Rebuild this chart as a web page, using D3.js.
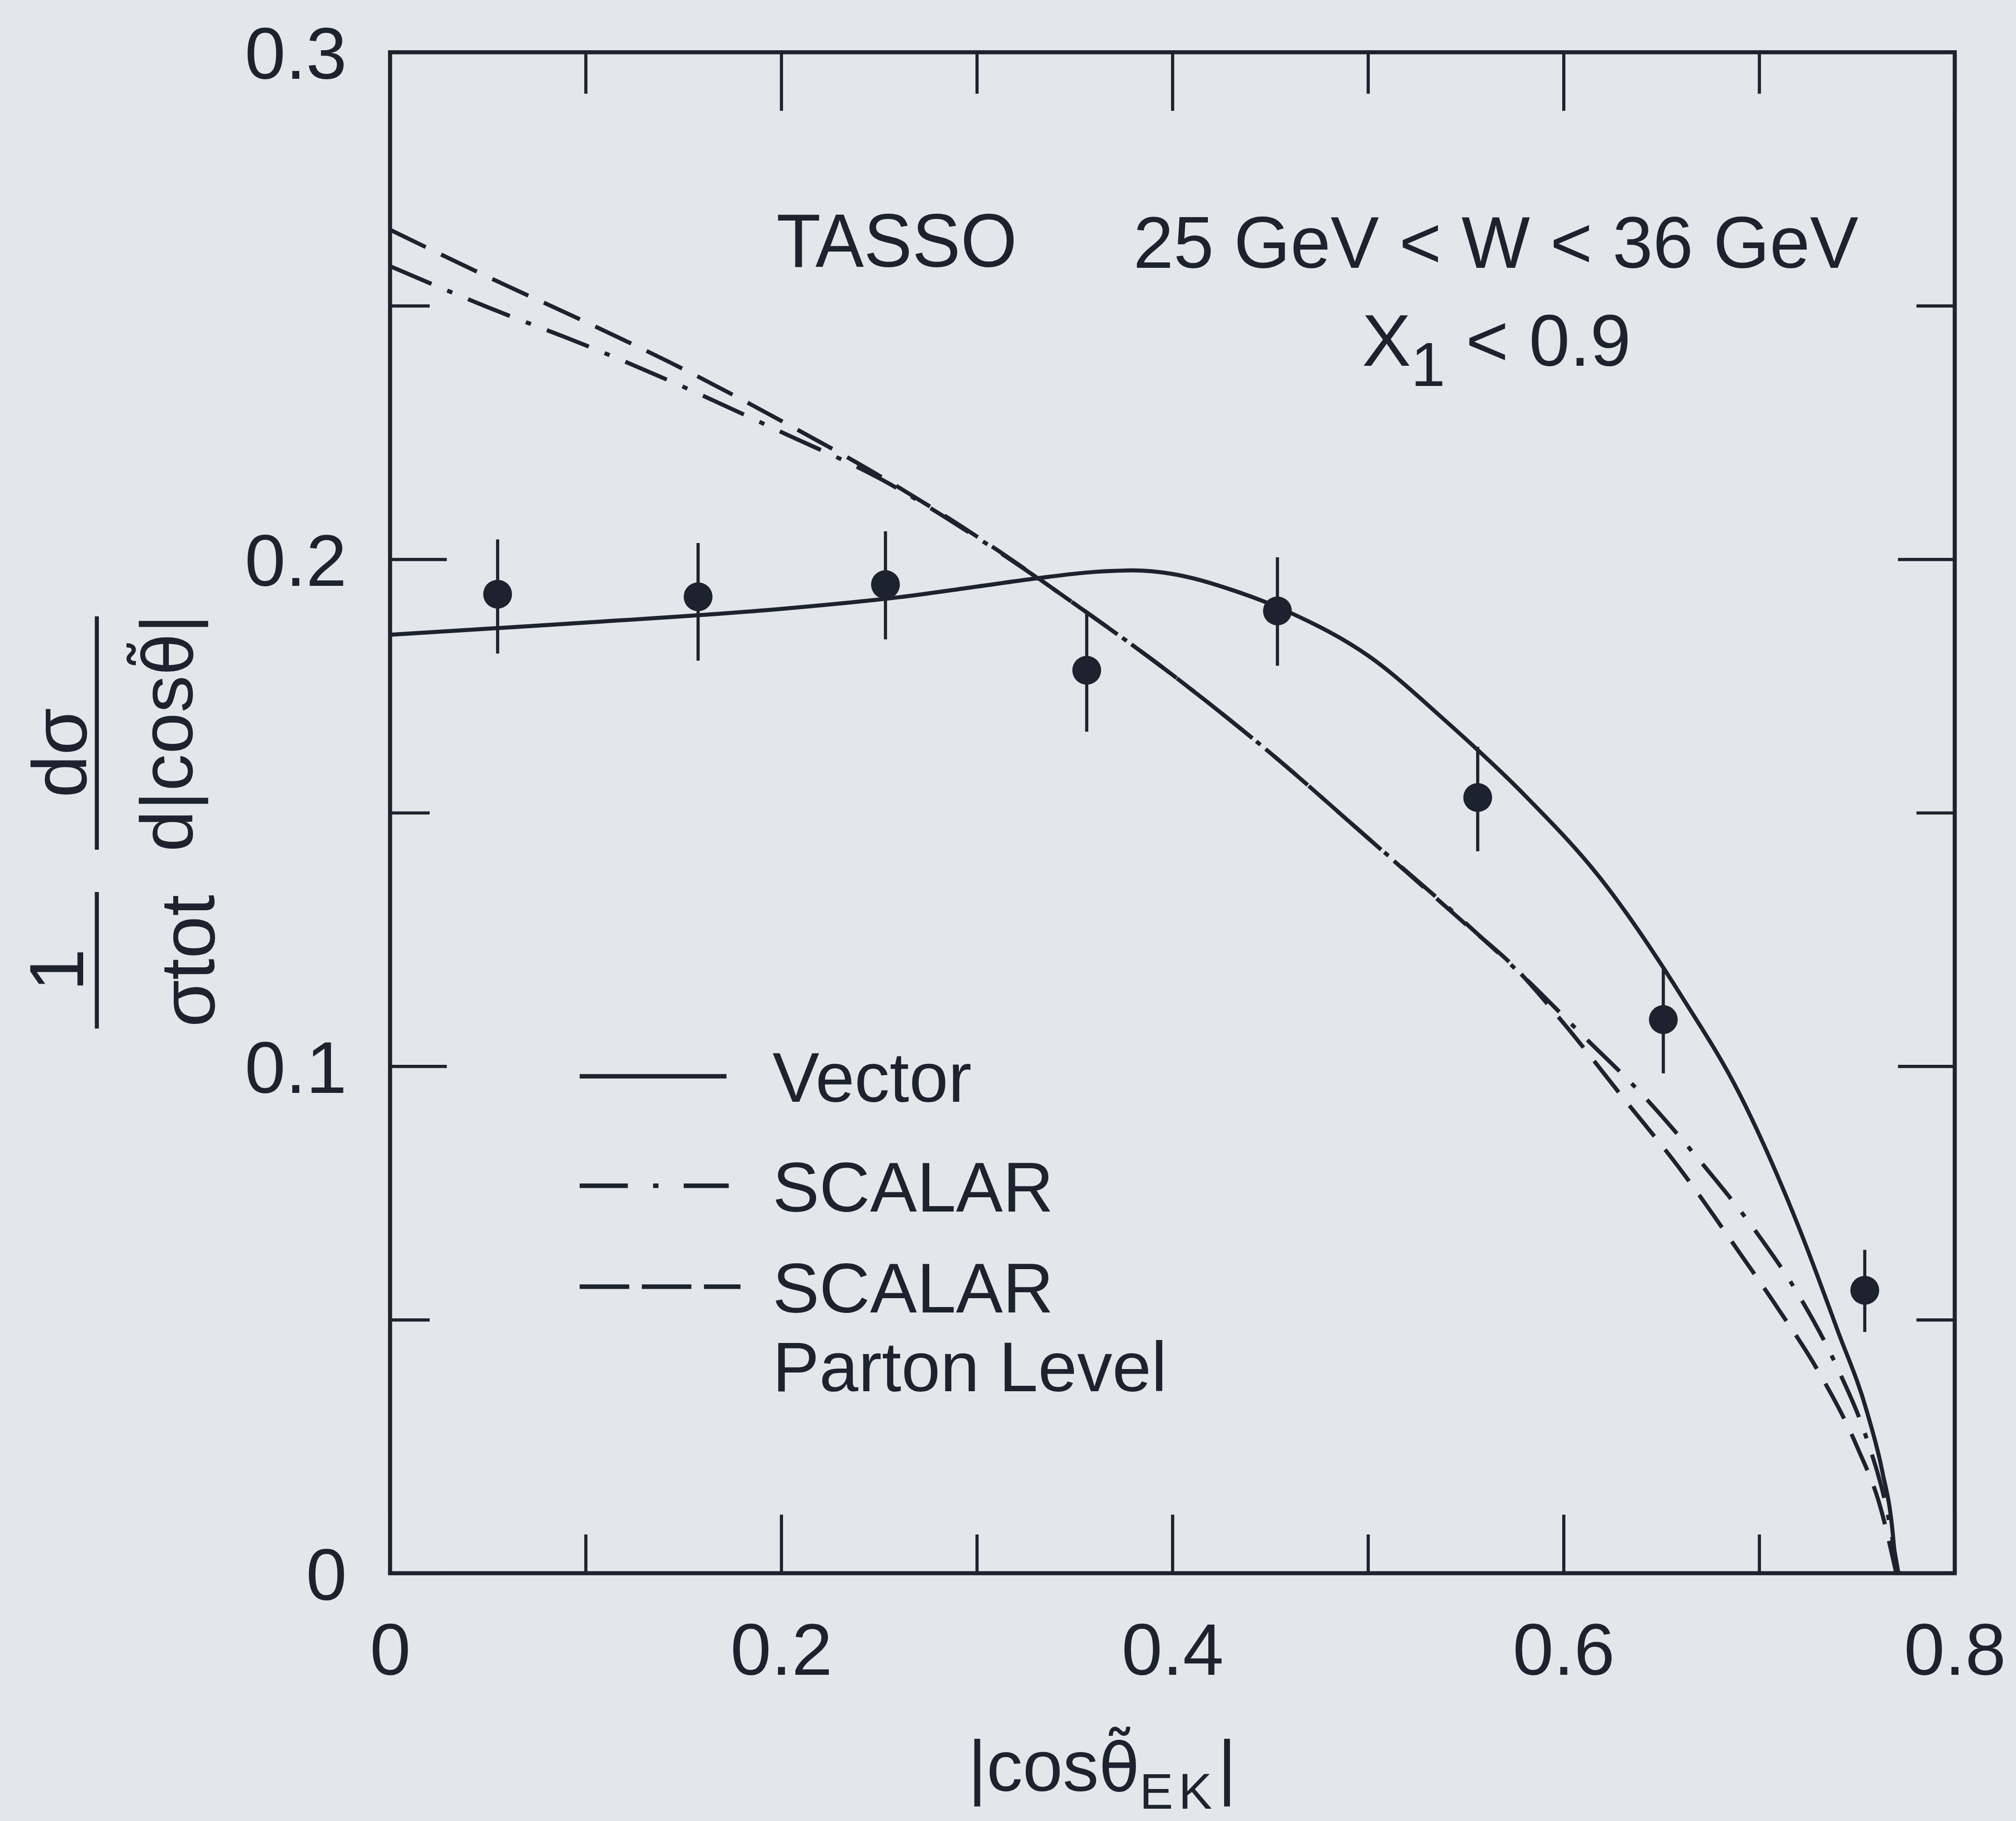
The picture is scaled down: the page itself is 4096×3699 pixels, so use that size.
<!DOCTYPE html>
<html>
<head>
<meta charset="utf-8">
<script src="https://cdn.jsdelivr.net/npm/d3@7"></script>
<style>
  body { margin: 0; background: #e4e7e9; }
  svg { display: block; }
  text { font-family: "Liberation Sans", Arial, Helvetica, sans-serif; }
  .theta { font-family: "DejaVu Sans", sans-serif; }
</style>
</head>
<body>
<div class="chart-container"></div>
<script>
// Data (|cos theta_EK| vs 1/sigma dsigma/d|cos theta|)
const pointX = [0.055, 0.1575, 0.2533, 0.3562, 0.4537, 0.5561, 0.6510, 0.7540];
const pointY = [0.1931, 0.1926, 0.1950, 0.1781, 0.1898, 0.1530, 0.1092, 0.0558];
const errLow = [0.1814, 0.1800, 0.1842, 0.1660, 0.1790, 0.1424, 0.0986, 0.0476];
const errHigh = [0.2039, 0.2032, 0.2055, 0.1898, 0.2004, 0.1630, 0.1195, 0.0638];

const vectorCurve = [
    [0.000, 0.1851], [0.100, 0.1875], [0.200, 0.1902], [0.260, 0.1925], [0.300, 0.1946],
    [0.330, 0.1962], [0.360, 0.1975], [0.380, 0.1978], [0.400, 0.1971], [0.430, 0.1940],
    [0.460, 0.1895], [0.500, 0.1810], [0.540, 0.1680], [0.580, 0.1535], [0.620, 0.1365],
    [0.660, 0.1140], [0.690, 0.0945], [0.720, 0.0685], [0.740, 0.0480], [0.755, 0.0320],
    [0.763, 0.0200], [0.768, 0.0090], [0.7701, 0.0000]
];
const scalarCurve = [
    [0.000, 0.2578], [0.050, 0.2497], [0.100, 0.2422], [0.150, 0.2340], [0.200, 0.2251],
    [0.250, 0.2160], [0.300, 0.2043], [0.350, 0.1912], [0.400, 0.1772], [0.450, 0.1618],
    [0.500, 0.1450], [0.550, 0.1282], [0.580, 0.1175], [0.610, 0.1060], [0.640, 0.0945],
    [0.670, 0.0812], [0.700, 0.0665], [0.720, 0.0550], [0.740, 0.0405], [0.755, 0.0265],
    [0.765, 0.0130], [0.7712, 0.0000]
];
const partonCurve = [
    [0.000, 0.2650], [0.050, 0.2557], [0.100, 0.2468], [0.150, 0.2375], [0.200, 0.2273],
    [0.250, 0.2165], [0.300, 0.2045], [0.350, 0.1912], [0.400, 0.1772], [0.450, 0.1618],
    [0.500, 0.1450], [0.550, 0.1280], [0.575, 0.1195], [0.600, 0.1085], [0.630, 0.0940],
    [0.660, 0.0795], [0.690, 0.0632], [0.710, 0.0520], [0.730, 0.0400], [0.750, 0.0250],
    [0.762, 0.0130], [0.7701, 0.0000]
];

const xMajor = [0, 0.2, 0.4, 0.6, 0.8];
const xMinor = [0.1, 0.3, 0.5, 0.7];
const xTickLabels = ["0", "0.2", "0.4", "0.6", "0.8"];
const yMajor = [0, 0.1, 0.2, 0.3];
const yMinor = [0.05, 0.15, 0.25];
const yTickLabels = ["0", "0.1", "0.2", "0.3"];

const legendNames = [["Vector"], ["SCALAR"], ["SCALAR", "Parton Level"]];

function draw() {

    // Drawn in the reference's own pixel space, scaled down by the viewBox.
    const width = 4476;
    const height = 4042;
    const marginTop = 116;
    const marginRight = 136;
    const marginBottom = 550;
    const marginLeft = 866;
    const ink = "#1c232e";

    const svg = d3.select('.chart-container').append("svg")
        .attr("width", 4096)
        .attr("height", 3699)
        .attr("viewBox", `0 0 ${width} ${height}`)
        .attr("preserveAspectRatio", "none");

    svg.append("rect")
        .attr("width", width)
        .attr("height", height)
        .attr("fill", "#e4e7e9");

    const x = d3.scaleLinear()
        .domain([0, 0.8])
        .range([marginLeft, width - marginRight]);

    const y = d3.scaleLinear()
        .domain([0, 0.3])
        .range([height - marginBottom, marginTop]);

    const styleAxis = g => {
        g.attr("color", ink);
        g.select(".domain").remove();
        g.selectAll("line").attr("stroke-width", 7);
        g.selectAll("text")
            .attr("font-size", 163)
            .attr("font-family", '"Liberation Sans", Arial, sans-serif');
    };

    // Ticks point inwards on all four sides.
    svg.append("g")
        .attr("transform", `translate(0,${y(0)})`)
        .call(d3.axisBottom(x).tickValues(xMajor).tickSize(-130).tickSizeOuter(0)
            .tickPadding(110).tickFormat((d, i) => xTickLabels[i]))
        .call(styleAxis);
    svg.append("g")
        .attr("transform", `translate(0,${y(0)})`)
        .call(d3.axisBottom(x).tickValues(xMinor).tickSize(-86).tickSizeOuter(0).tickFormat(""))
        .call(styleAxis);
    svg.append("g")
        .attr("transform", `translate(0,${y(0.3)})`)
        .call(d3.axisTop(x).tickValues(xMajor).tickSize(-130).tickSizeOuter(0).tickFormat(""))
        .call(styleAxis);
    svg.append("g")
        .attr("transform", `translate(0,${y(0.3)})`)
        .call(d3.axisTop(x).tickValues(xMinor).tickSize(-92).tickSizeOuter(0).tickFormat(""))
        .call(styleAxis);

    svg.append("g")
        .attr("transform", `translate(${x(0)},0)`)
        .call(d3.axisLeft(y).tickValues(yMajor).tickSize(-126).tickSizeOuter(0)
            .tickPadding(96).tickFormat((d, i) => yTickLabels[i]))
        .call(styleAxis)
        .call(g => g.selectAll("text").attr("dy", "0.36em"));
    svg.append("g")
        .attr("transform", `translate(${x(0)},0)`)
        .call(d3.axisLeft(y).tickValues(yMinor).tickSize(-88).tickSizeOuter(0).tickFormat(""))
        .call(styleAxis);
    svg.append("g")
        .attr("transform", `translate(${x(0.8)},0)`)
        .call(d3.axisRight(y).tickValues(yMajor).tickSize(-126).tickSizeOuter(0).tickFormat(""))
        .call(styleAxis);
    svg.append("g")
        .attr("transform", `translate(${x(0.8)},0)`)
        .call(d3.axisRight(y).tickValues(yMinor).tickSize(-85).tickSizeOuter(0).tickFormat(""))
        .call(styleAxis);

    // Frame
    svg.append("rect")
        .attr("x", x(0))
        .attr("y", y(0.3))
        .attr("width", x(0.8) - x(0))
        .attr("height", y(0) - y(0.3))
        .attr("fill", "none")
        .attr("stroke", ink)
        .attr("stroke-width", 9);

    // Model curves
    const line = d3.line()
        .x(d => x(d[0]))
        .y(d => y(d[1]))
        .curve(d3.curveMonotoneX);

    const curves = [
        { data: vectorCurve, dash: null },
        { data: scalarCurve, dash: "100,38,12,38" },
        { data: partonCurve, dash: "88,38" }
    ];

    svg.append("g")
        .selectAll("path")
        .data(curves)
        .enter()
        .append("path")
        .attr("d", d => line(d.data))
        .attr("fill", "none")
        .attr("stroke", ink)
        .attr("stroke-width", 9)
        .attr("stroke-dasharray", d => d.dash);

    // Data points with error bars
    const points = pointX.map((px, i) => ({ x: px, y: pointY[i], lo: errLow[i], hi: errHigh[i] }));

    svg.append("g")
        .selectAll("line")
        .data(points)
        .enter()
        .append("line")
        .attr("x1", d => x(d.x))
        .attr("x2", d => x(d.x))
        .attr("y1", d => y(d.lo))
        .attr("y2", d => y(d.hi))
        .attr("stroke", ink)
        .attr("stroke-width", 7);

    svg.append("g")
        .selectAll("circle")
        .data(points)
        .enter()
        .append("circle")
        .attr("cx", d => x(d.x))
        .attr("cy", d => y(d.y))
        .attr("r", 32)
        .attr("fill", ink);

    // Annotation
    svg.append("text")
        .attr("x", 1724).attr("y", 592)
        .attr("font-size", 168).attr("fill", ink)
        .attr("textLength", 534).attr("lengthAdjust", "spacingAndGlyphs")
        .text("TASSO");
    svg.append("text")
        .attr("x", 2516).attr("y", 595)
        .attr("font-size", 163).attr("fill", ink)
        .attr("textLength", 1610).attr("lengthAdjust", "spacingAndGlyphs")
        .text("25 GeV < W < 36 GeV");
    const cut = svg.append("text")
        .attr("x", 3024).attr("y", 812)
        .attr("font-size", 163).attr("fill", ink);
    cut.append("tspan").text("X");
    cut.append("tspan").attr("font-size", 137).attr("dy", 45).text("1");
    cut.append("tspan").attr("dy", -45).text(" < 0.9");

    // Legend
    const legendX = 1287;
    const legendText = 1715;
    const legendRows = [2389, 2632, 2856];
    const legendLen = [326, 331, 357];
    const legendDash = [null, "107,56,12,56", "110,28"];

    const legend = svg.append("g").attr('id', 'legend');
    legendNames.forEach((names, i) => {
        legend.append("line")
            .attr("x1", legendX)
            .attr("x2", legendX + legendLen[i])
            .attr("y1", legendRows[i])
            .attr("y2", legendRows[i])
            .attr("stroke", ink)
            .attr("stroke-width", 10)
            .attr("stroke-dasharray", legendDash[i]);
        names.forEach((name, j) => {
            legend.append("text")
                .attr("x", legendText)
                .attr("y", legendRows[i] + 57 + j * 175)
                .attr("font-size", 156)
                .attr("fill", ink)
                .text(name);
        });
    });

    // X axis title: theta with a combining tilde, set in DejaVu so the mark attaches
    const xTitle = svg.append("text")
        .attr("x", 2149).attr("y", 3975)
        .attr("font-size", 160).attr("fill", ink);
    xTitle.append("tspan").text("|cos");
    xTitle.append("tspan").attr("class", "theta").attr("font-size", 148).text("\u03B8\u0303");
    xTitle.append("tspan").attr("font-size", 112).attr("dy", 40).attr("letter-spacing", 12).text("EK");
    xTitle.append("tspan").attr("dy", -40).text("|");

    // Y axis title: 1/sigma_tot  dsigma/d|cos theta|
    const yTitle = svg.append("g").attr("transform", "rotate(-90)");
    yTitle.append("text")
        .attr("x", -2153).attr("y", 185)
        .attr("text-anchor", "middle").attr("font-size", 170).attr("fill", ink)
        .text("1");
    yTitle.append("line")
        .attr("x1", -2283).attr("x2", -1980).attr("y1", 215).attr("y2", 215)
        .attr("stroke", ink).attr("stroke-width", 9);
    yTitle.append("text")
        .attr("x", -2133).attr("y", 475)
        .attr("text-anchor", "middle").attr("font-size", 170).attr("fill", ink)
        .text("\u03C3tot");
    yTitle.append("text")
        .attr("x", -1671).attr("y", 191)
        .attr("text-anchor", "middle").attr("font-size", 170).attr("fill", ink)
        .text("d\u03C3");
    yTitle.append("line")
        .attr("x1", -1886).attr("x2", -1368).attr("y1", 215).attr("y2", 215)
        .attr("stroke", ink).attr("stroke-width", 9);
    const yDenom = yTitle.append("text")
        .attr("x", -1627).attr("y", 427)
        .attr("text-anchor", "middle").attr("font-size", 165).attr("fill", ink);
    yDenom.append("tspan").text("d|cos");
    yDenom.append("tspan").attr("class", "theta").attr("font-size", 152).text("\u03B8\u0303");
    yDenom.append("tspan").text("|");
}

draw();
</script>
</body>
</html>
